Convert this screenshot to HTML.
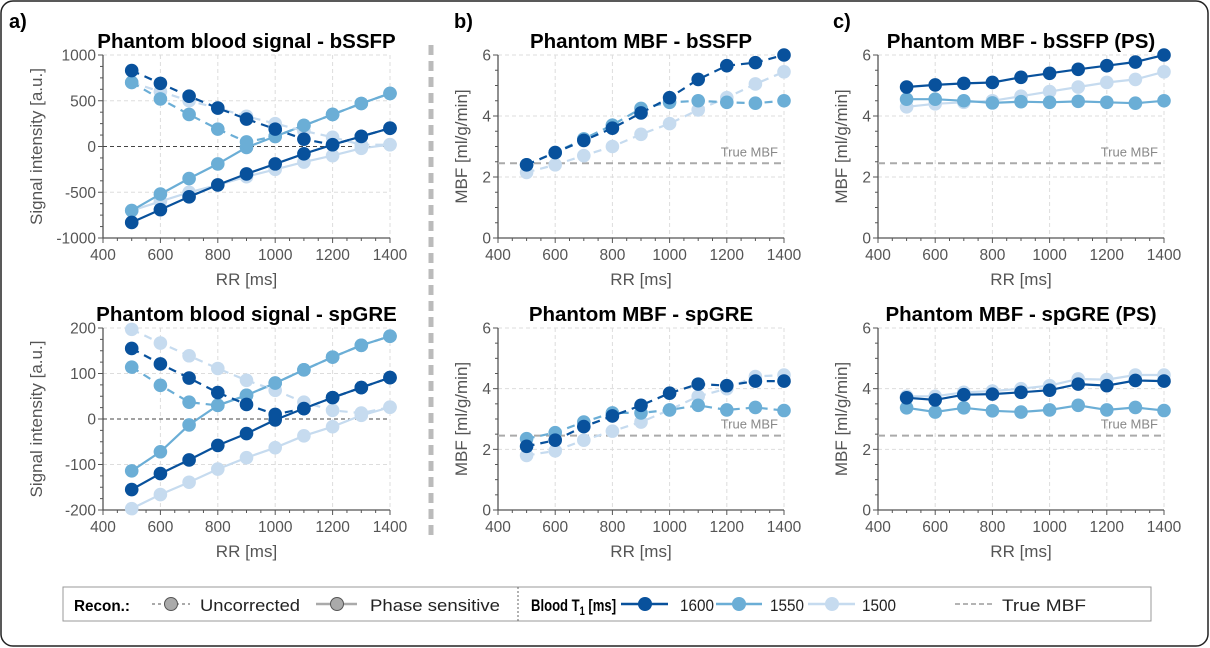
<!DOCTYPE html>
<html><head><meta charset="utf-8"><style>
html,body{margin:0;padding:0;background:#fff;}
svg{display:block;font-family:"Liberation Sans",Arial,sans-serif;}
</style></head><body>
<svg id="fig" width="1210" height="648" viewBox="0 0 1210 648">
<rect x="1" y="1" width="1207" height="645" rx="12" fill="#fff" stroke="#222" stroke-width="1.5"/>
<line x1="431" y1="45" x2="431" y2="540" stroke="#bbb" stroke-width="5" stroke-dasharray="10,6"/>
<text x="9" y="28" font-size="20" font-weight="bold">a)</text>
<text x="454" y="28" font-size="20" font-weight="bold">b)</text>
<text x="833" y="28" font-size="20" font-weight="bold">c)</text>
<g id="plots"></g>
<g id="legend">
<rect x="63" y="587" width="1088" height="34" fill="#fff" stroke="#999"/>
<line x1="518" y1="587" x2="518" y2="621" stroke="#666" stroke-dasharray="2,2"/>
<text x="74" y="611" font-size="16" font-weight="bold" textLength="56" lengthAdjust="spacingAndGlyphs">Recon.:</text>
<g>
<line x1="152" y1="604" x2="190" y2="604" stroke="#aaa" stroke-width="2" stroke-dasharray="3,3"/>
<circle cx="171" cy="604" r="6.5" fill="#aaa" stroke="#555"/>
<text x="200" y="611" font-size="17" fill="#222" textLength="100" lengthAdjust="spacingAndGlyphs">Uncorrected</text></g>
<g>
<line x1="316" y1="604" x2="357" y2="604" stroke="#aaa" stroke-width="2.5"/>
<circle cx="337" cy="604" r="6.5" fill="#aaa" stroke="#555"/>
<text x="370" y="611" font-size="17" fill="#222" textLength="130" lengthAdjust="spacingAndGlyphs">Phase sensitive</text></g>
<g transform="translate(531,0) scale(0.77,1)">
<text x="0" y="611" font-size="17" font-weight="bold">Blood T<tspan font-size="12" dy="4">1</tspan><tspan dy="-4"> [ms]</tspan></text>
</g>
<g>
<line x1="621" y1="604" x2="668" y2="604" stroke="#08519c" stroke-width="2.5"/><circle cx="645" cy="604" r="7" fill="#08519c"/>
<text x="680" y="611" font-size="17" fill="#222" textLength="34" lengthAdjust="spacingAndGlyphs">1600</text></g>
<g>
<line x1="716" y1="604" x2="762" y2="604" stroke="#6baed6" stroke-width="2.5"/><circle cx="739" cy="604" r="7" fill="#6baed6"/>
<text x="770" y="611" font-size="17" fill="#222" textLength="34" lengthAdjust="spacingAndGlyphs">1550</text></g>
<g>
<line x1="808" y1="604" x2="855" y2="604" stroke="#c6dbef" stroke-width="2.5"/><circle cx="832" cy="604" r="7" fill="#c6dbef"/>
<text x="862" y="611" font-size="17" fill="#222" textLength="34" lengthAdjust="spacingAndGlyphs">1500</text></g>
<g>
<line x1="955" y1="604" x2="992" y2="604" stroke="#888" stroke-width="1.3" stroke-dasharray="5,3"/>
<text x="1002" y="611" font-size="17" fill="#222" textLength="84" lengthAdjust="spacingAndGlyphs">True MBF</text></g>
</g>
</svg>
<script>
const rr = [500,600,700,800,900,1000,1100,1200,1300,1400];
const t1Labels = ["1600","1550","1500"];
const trueMBF = 2.45;
// a) bSSFP signal
const sigB_ps_1600 = [-830,-690,-550,-420,-300,-190,-80,20,110,200];
const sigB_ps_1550 = [-700,-520,-350,-190,-10,110,230,350,470,580];
const sigB_ps_1500 = [-700,-600,-500,-420,-330,-250,-170,-100,-20,20];
const sigB_un_1600 = [830,690,550,420,300,190,80,20,110,200];
const sigB_un_1550 = [700,520,350,190,50,110,230,350,470,580];
const sigB_un_1500 = [700,600,500,420,330,250,170,100,20,20];
// a) spGRE signal
const sigG_ps_1600 = [-155,-120,-90,-58,-32,-2,23,47,69,91];
const sigG_ps_1550 = [-114,-72,-13,30,52,79,108,136,162,182];
const sigG_ps_1500 = [-197,-166,-139,-110,-85,-63,-37,-17,8,26];
const sigG_un_1600 = [155,121,90,58,32,10,23,47,69,91];
const sigG_un_1550 = [114,74,37,30,52,79,108,136,162,182];
const sigG_un_1500 = [197,167,139,111,85,63,37,19,13,26];
// b) MBF uncorrected
const mbfB_un_1600 = [2.4,2.8,3.2,3.6,4.1,4.6,5.2,5.65,5.75,6.0];
const mbfB_un_1550 = [2.4,2.8,3.25,3.7,4.25,4.45,4.5,4.45,4.42,4.5];
const mbfB_un_1500 = [2.15,2.4,2.7,3.0,3.4,3.75,4.2,4.6,5.05,5.45];
const mbfG_un_1600 = [2.1,2.3,2.75,3.1,3.45,3.85,4.15,4.1,4.25,4.25];
const mbfG_un_1550 = [2.35,2.55,2.9,3.2,3.2,3.3,3.45,3.3,3.38,3.28];
const mbfG_un_1500 = [1.8,1.95,2.3,2.6,2.9,3.3,3.75,4.0,4.4,4.45];
// c) MBF phase sensitive
const mbfB_ps_1600 = [4.95,5.02,5.07,5.1,5.27,5.4,5.53,5.65,5.77,6.0];
const mbfB_ps_1550 = [4.55,4.55,4.5,4.43,4.47,4.45,4.48,4.45,4.42,4.5];
const mbfB_ps_1500 = [4.3,4.4,4.45,4.5,4.65,4.8,4.95,5.1,5.2,5.45];
const mbfG_ps_1600 = [3.7,3.63,3.8,3.82,3.88,3.95,4.15,4.1,4.27,4.25];
const mbfG_ps_1550 = [3.37,3.23,3.37,3.27,3.23,3.3,3.45,3.3,3.38,3.28];
const mbfG_ps_1500 = [3.75,3.75,3.88,3.92,4.0,4.1,4.32,4.3,4.45,4.45];
const xTicks = [400,600,800,1000,1200,1400];
const sigBTicks = [-1000,-500,0,500,1000];
const sigGTicks = [-200,-100,0,100,200];
const mbfTicks = [0,2,4,6];

const colors = ["#08519c","#6baed6","#c6dbef"];
const NS = "http://www.w3.org/2000/svg";
const root = document.getElementById('plots');
function mk(tag, attrs, parent){const e=document.createElementNS(NS,tag);for(const k in attrs)e.setAttribute(k,attrs[k]);parent.appendChild(e);return e;}

function panel(p){
  const g = mk('g',{},root);
  
  
  const xs = v => p.x0 + (v-400)/1000*(p.x1-p.x0);
  const ys = v => p.yb + (v-p.ymin)/(p.ymax-p.ymin)*(p.yt-p.yb);
  xTicks.forEach(t=>{ if(t>400){ const l=mk('line',{x1:xs(t),x2:xs(t),y1:p.yt,y2:p.yb,stroke:'#ddd','stroke-dasharray':'4,3'},g);
     }});
  p.yticks.forEach(t=>{ if(t>p.ymin){ const l=mk('line',{x1:p.x0,x2:p.x1,y1:ys(t),y2:ys(t),stroke:'#ddd','stroke-dasharray':'4,3'},g);
     }});
  const ax = mk('path',{d:`M${p.x0},${p.yt}V${p.yb}H${p.x1}`,fill:'none',stroke:'#555','stroke-width':1.3},g);
   
  for(let v=400;v<=1400;v+=50){ mk('line',{x1:xs(v),x2:xs(v),y1:p.yb,y2:p.yb+(v%200===0?5:3),stroke:'#555'},g); }
  const yst=(p.yticks[1]-p.yticks[0])/4;
  for(let v=p.ymin;v<=p.ymax+1e-9;v+=yst){ mk('line',{x1:p.x0,x2:p.x0-((Math.abs((v-p.ymin)%(yst*4))<1e-6)?5:3),y1:ys(v),y2:ys(v),stroke:'#555'},g); }
  xTicks.forEach(t=>{ const e=mk('text',{x:xs(t),y:p.yb+22,'font-size':15.5,fill:'#555','text-anchor':'middle'},g); e.textContent=t;
     });
  p.yticks.forEach(t=>{ const e=mk('text',{x:p.x0-7,y:ys(t)+5.5,'font-size':15.5,fill:'#555','text-anchor':'end'},g); e.textContent=t;
     });
  const xt=mk('text',{x:(p.x0+p.x1)/2,y:p.yb+47,'font-size':17,fill:'#555','text-anchor':'middle'},g); xt.textContent='RR [ms]';
   
  const cy=(p.yt+p.yb)/2;
  const yt=mk('text',{x:p.ylx,y:cy,'font-size':17,fill:'#555','text-anchor':'middle',transform:`rotate(-90 ${p.ylx} ${cy})`},g); yt.textContent=p.ylabel;
   
  const ti=mk('text',{x:(p.x0+p.x1)/2,y:p.yt-7,'font-size':20.5,'font-weight':'bold','text-anchor':'middle'},g); ti.textContent=p.title;
   
  if(p.zero){ const z=mk('line',{x1:p.x0,x2:p.x1,y1:ys(0),y2:ys(0),stroke:'#444','stroke-dasharray':'4,3'},g);
      }
  if(p.truth){ const z=mk('line',{x1:p.x0,x2:p.x1,y1:ys(trueMBF),y2:ys(trueMBF),stroke:'#aaa','stroke-width':2,'stroke-dasharray':'7,5'},g);
     
    const tt=mk('text',{x:p.x1-6,y:ys(trueMBF)-7,'font-size':13,fill:'#888','text-anchor':'end'},g); tt.textContent='True MBF';
      }
  p.series.slice().reverse().forEach(s=>{
    const sg=mk('g',{},g);
    
    
    const d=s.vals.map((v,i)=>(i?'L':'M')+xs(rr[i]).toFixed(1)+','+ys(v).toFixed(1)).join('');
    const attrs={d:d,fill:'none',stroke:s.color,'stroke-width':2.2};
    if(s.dashed) attrs['stroke-dasharray']='8,6';
    mk('path',attrs,sg);
    s.vals.forEach((v,i)=>{ const c=mk('circle',{cx:xs(rr[i]),cy:ys(v),r:6.8,fill:s.color},sg);
        });
  });
}
function ser(arrs,dashed){return arrs.map((a,i)=>({vals:a,color:colors[i],label:t1Labels[i],dashed:dashed}));}

panel({name:'panel-a-bssfp-signal',x0:103,x1:390,yt:55,yb:238,ymin:-1000,ymax:1000,yticks:sigBTicks,ylx:42,
  ylabel:'Signal intensity [a.u.]',title:'Phantom blood signal - bSSFP',zero:true,
  series:ser([sigB_un_1600,sigB_un_1550,sigB_un_1500],true).concat(ser([sigB_ps_1600,sigB_ps_1550,sigB_ps_1500],false))});
panel({name:'panel-a-spgre-signal',x0:103,x1:390,yt:328,yb:510,ymin:-200,ymax:200,yticks:sigGTicks,ylx:42,
  ylabel:'Signal intensity [a.u.]',title:'Phantom blood signal - spGRE',zero:true,
  series:ser([sigG_un_1600,sigG_un_1550,sigG_un_1500],true).concat(ser([sigG_ps_1600,sigG_ps_1550,sigG_ps_1500],false))});
panel({name:'panel-b-bssfp-mbf',x0:498,x1:784,yt:55,yb:238,ymin:0,ymax:6,yticks:mbfTicks,ylx:467,
  ylabel:'MBF [ml/g/min]',title:'Phantom MBF - bSSFP',truth:true,
  series:ser([mbfB_un_1600,mbfB_un_1550,mbfB_un_1500],true)});
panel({name:'panel-b-spgre-mbf',x0:498,x1:784,yt:328,yb:510,ymin:0,ymax:6,yticks:mbfTicks,ylx:467,
  ylabel:'MBF [ml/g/min]',title:'Phantom MBF - spGRE',truth:true,
  series:ser([mbfG_un_1600,mbfG_un_1550,mbfG_un_1500],true)});
panel({name:'panel-c-bssfp-ps-mbf',x0:878,x1:1164,yt:55,yb:238,ymin:0,ymax:6,yticks:mbfTicks,ylx:847,
  ylabel:'MBF [ml/g/min]',title:'Phantom MBF - bSSFP (PS)',truth:true,
  series:ser([mbfB_ps_1600,mbfB_ps_1550,mbfB_ps_1500],false)});
panel({name:'panel-c-spgre-ps-mbf',x0:878,x1:1164,yt:328,yb:510,ymin:0,ymax:6,yticks:mbfTicks,ylx:847,
  ylabel:'MBF [ml/g/min]',title:'Phantom MBF - spGRE (PS)',truth:true,
  series:ser([mbfG_ps_1600,mbfG_ps_1550,mbfG_ps_1500],false)});
</script>
</body></html>
